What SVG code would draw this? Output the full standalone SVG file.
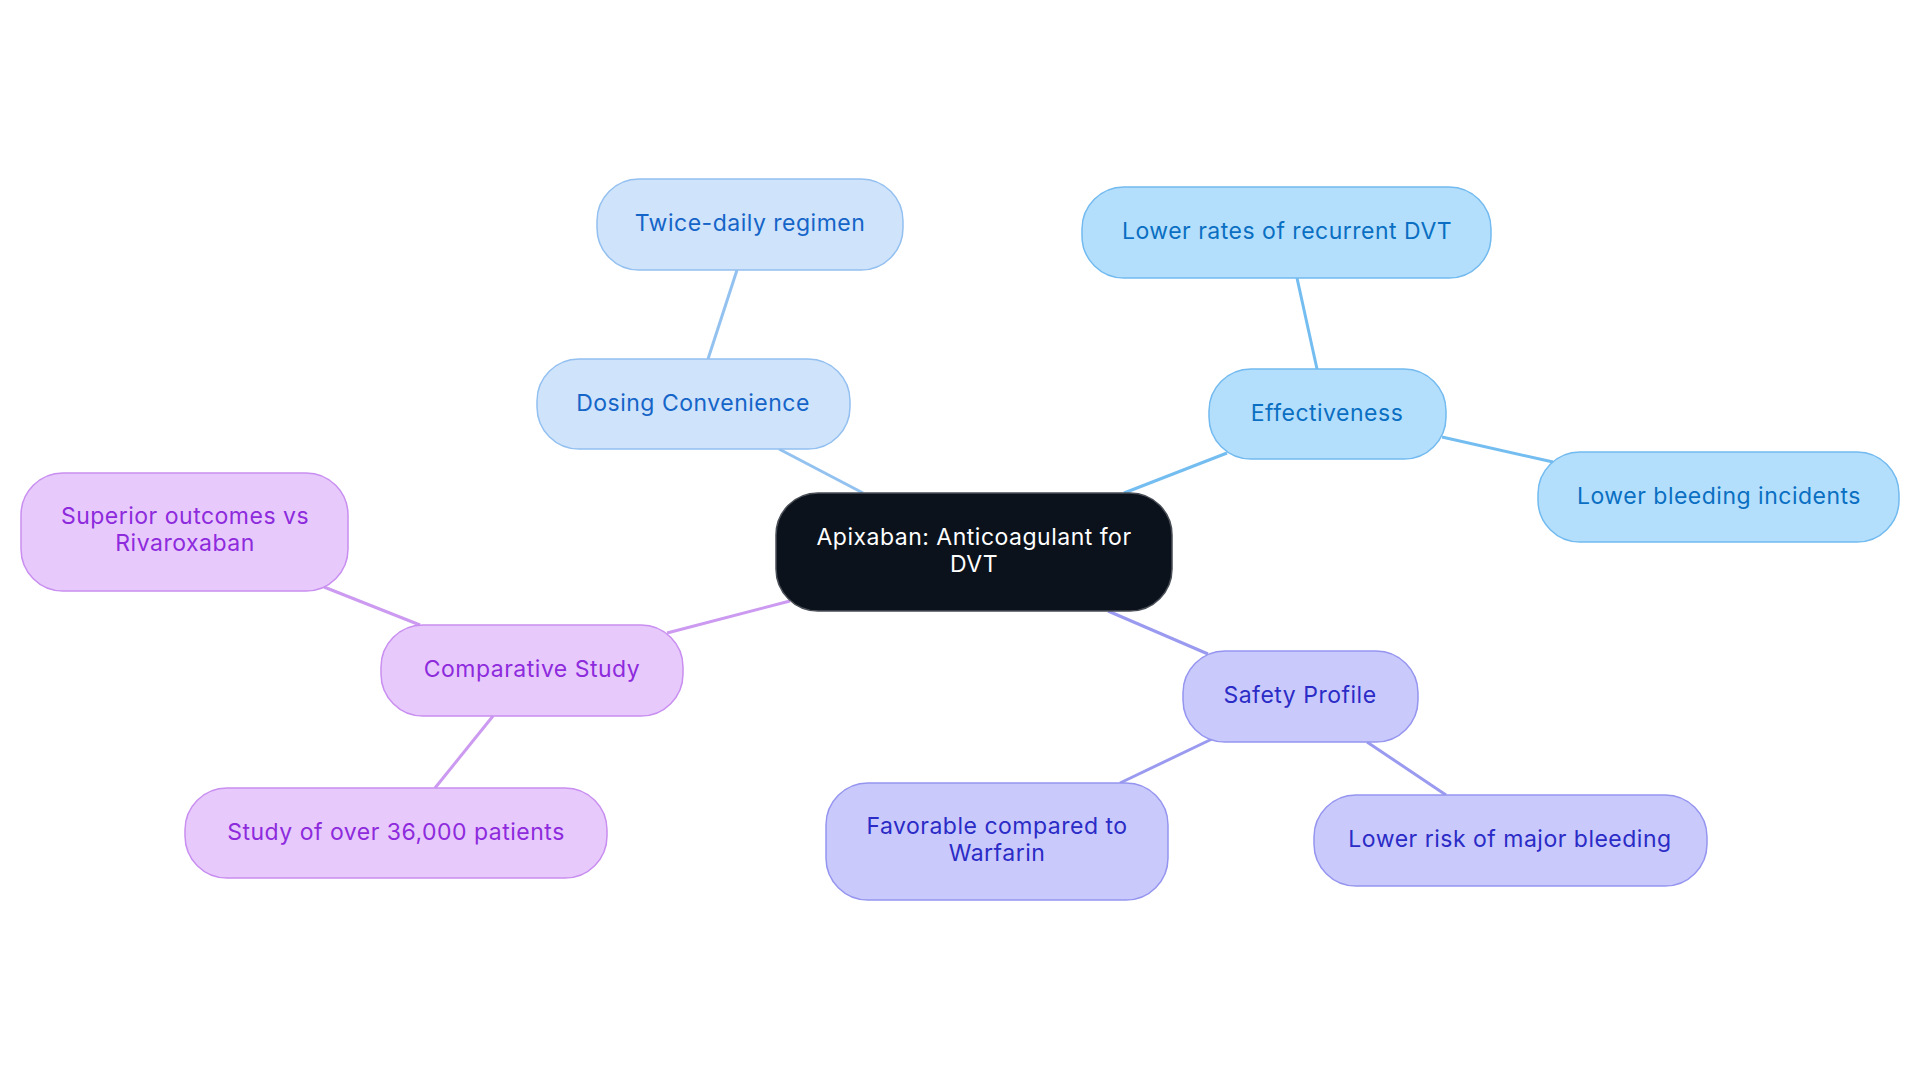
<svg xmlns="http://www.w3.org/2000/svg" width="1920" height="1083" viewBox="0 0 1920 1083">
<style>
text{font-family:Inter,"Noto Sans",sans-serif;font-size:23px;letter-spacing:0.5px;text-anchor:middle;dominant-baseline:central}
.c{fill:#0c121c;stroke:#4a4f57;stroke-width:1.5}
.ct{fill:#ffffff}
.d{fill:#cfe3fb;stroke:#93c0f0;stroke-width:1.5}
.dt{fill:#1565c8}
.e{fill:#b4dffc;stroke:#72baef;stroke-width:1.5}
.et{fill:#0a6fc2}
.s{fill:#c9c9fc;stroke:#9595f0;stroke-width:1.5}
.st{fill:#2b2bc6}
.p{fill:#e8c9fc;stroke:#c88ef0;stroke-width:1.5}
.pt{fill:#8d2bdc}
#connectors line{stroke-width:3;fill:none}
</style>
<rect width="1920" height="1083" fill="#ffffff"/>
<g id="connectors">
<line x1="863" y1="493" x2="779" y2="449" stroke="#93c2f0"/>
<line x1="708" y1="359" x2="737" y2="270" stroke="#93c2f0"/>
<line x1="1124" y1="493" x2="1227" y2="453" stroke="#74bdf0"/>
<line x1="1317" y1="369" x2="1297" y2="278" stroke="#74bdf0"/>
<line x1="1442" y1="437" x2="1553" y2="462" stroke="#74bdf0"/>
<line x1="1108" y1="611" x2="1208" y2="654" stroke="#9a9af0"/>
<line x1="1212" y1="739" x2="1120" y2="783" stroke="#9a9af0"/>
<line x1="1367" y1="742" x2="1446" y2="795" stroke="#9a9af0"/>
<line x1="790" y1="601" x2="667" y2="633" stroke="#cc9af0"/>
<line x1="420" y1="625" x2="324" y2="587" stroke="#cc9af0"/>
<line x1="493" y1="716" x2="435" y2="788" stroke="#cc9af0"/>
</g>
<g id="center">
<rect class="c" x="776" y="493" width="396" height="118" rx="42"/>
<text class="ct" x="974" y="537">Apixaban: Anticoagulant for</text>
<text class="ct" x="974" y="564">DVT</text>
</g>
<g id="dosing">
<rect class="d" x="537" y="359" width="313" height="90" rx="42"/>
<text class="dt" x="693" y="403">Dosing Convenience</text>
</g>
<g id="twice">
<rect class="d" x="597" y="179" width="306" height="91" rx="42"/>
<text class="dt" x="750" y="223">Twice-daily regimen</text>
</g>
<g id="effectiveness">
<rect class="e" x="1209" y="369" width="237" height="90" rx="42"/>
<text class="et" x="1327" y="413">Effectiveness</text>
</g>
<g id="lowerrates">
<rect class="e" x="1082" y="187" width="409" height="91" rx="42"/>
<text class="et" x="1287" y="231">Lower rates of recurrent DVT</text>
</g>
<g id="lowerbleeding">
<rect class="e" x="1538" y="452" width="361" height="90" rx="42"/>
<text class="et" x="1719" y="496">Lower bleeding incidents</text>
</g>
<g id="safety">
<rect class="s" x="1183" y="651" width="235" height="91" rx="42"/>
<text class="st" x="1300" y="695">Safety Profile</text>
</g>
<g id="favorable">
<rect class="s" x="826" y="783" width="342" height="117" rx="42"/>
<text class="st" x="997" y="826">Favorable compared to</text>
<text class="st" x="997" y="853">Warfarin</text>
</g>
<g id="lowerrisk">
<rect class="s" x="1314" y="795" width="393" height="91" rx="42"/>
<text class="st" x="1510" y="839">Lower risk of major bleeding</text>
</g>
<g id="comparative">
<rect class="p" x="381" y="625" width="302" height="91" rx="42"/>
<text class="pt" x="532" y="669">Comparative Study</text>
</g>
<g id="superior">
<rect class="p" x="21" y="473" width="327" height="118" rx="42"/>
<text class="pt" x="185" y="516">Superior outcomes vs</text>
<text class="pt" x="185" y="543">Rivaroxaban</text>
</g>
<g id="study">
<rect class="p" x="185" y="788" width="422" height="90" rx="42"/>
<text class="pt" x="396" y="832">Study of over 36,000 patients</text>
</g>
</svg>
